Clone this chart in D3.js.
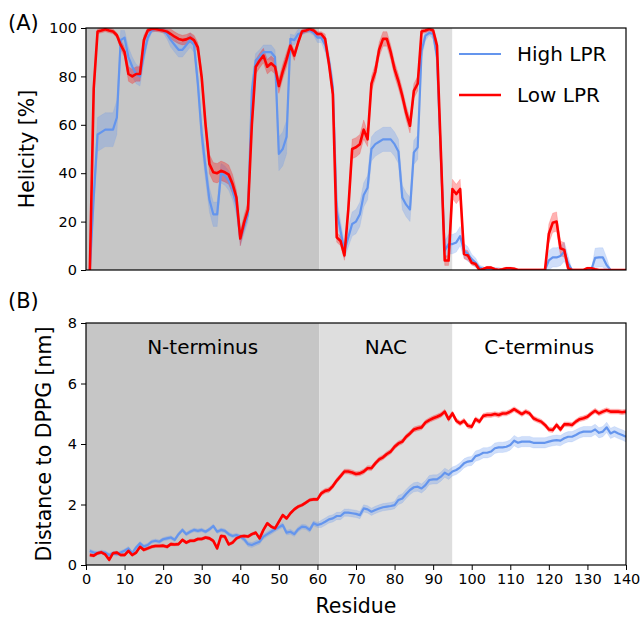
<!DOCTYPE html>
<html>
<head>
<meta charset="utf-8">
<script src="https://cdn.jsdelivr.net/npm/d3@7"></script>
<style>
  body { margin: 0; background: #fff; }
  text { font-family: "DejaVu Sans", sans-serif; fill: #000; }
</style>
</head>
<body>
<div id="chart"></div>
<script>
// residue numbers 1..140
const residues = d3.range(1, 141);

// helicity [%] per residue
const helixHigh = [
  0, 30, 56, 57, 58, 58, 58, 63, 95, 96,
  88, 84, 81, 80, 89, 96, 99, 99.6, 99.6, 99,
  97.5, 95, 93, 91, 91, 93, 95, 93, 77, 56,
  42, 29, 23, 23, 40, 39, 37, 33, 27, 13,
  18, 23, 74, 86.5, 88, 90, 90, 90, 88, 48,
  50, 55, 95.5, 95, 97.5, 98, 99, 99, 98, 96,
  96, 93, 86.5, 75.5, 24.5, 16, 8, 13.5, 19, 20,
  23, 31, 34, 50, 52, 53, 54, 54, 54, 52,
  49, 30, 27, 25, 48.6, 50.7, 90.6, 96.8, 98, 97.5,
  88, 46.6, 8, 10.7, 10.7, 11.4, 14, 8, 6.6, 4.5,
  3, 1, 0.4, 0, 0, 0, 0, 0, 0, 0,
  0, 0, 0, 0, 0, 0, 0, 0, 0, 4,
  5.2, 5.2, 5.8, 7.6, 2.8, 0, 0, 0, 0, 0,
  0, 5, 5.2, 5.2, 2, 0, 0, 0, 0, 0
];
const helixLow = [
  0, 75, 98.6, 99, 99.5, 99, 98.6, 97, 93, 90,
  81, 80, 81, 81, 95, 99, 99.6, 99.6, 99.3, 99,
  98.5, 97.5, 96.4, 95.5, 95, 95.3, 96, 95, 92, 79.6,
  60, 43.8, 40.4, 40, 41, 40.4, 39.4, 35.5, 30, 13,
  19.7, 25, 60, 84, 86.5, 88.6, 84, 85.4, 84, 76,
  82, 87, 92.7, 88.6, 94, 98.6, 99, 99.6, 99, 97.5,
  97.5, 95.5, 85, 72.7, 13.5, 12, 6, 25, 50, 50.7,
  52, 58, 54, 77, 82, 91, 95.5, 95.5, 90, 83,
  78, 72, 65, 59.6, 74, 77, 98.6, 99, 99.6, 99,
  92.7, 49, 3.9, 3.9, 33.5, 31.4, 33.5, 6.6, 6, 3,
  2.5, 0, 0.4, 1, 1, 0.3, 0, 0.3, 0.7, 0.7,
  0.5, 0, 0, 0, 0, 0, 0, 0, 0, 15,
  19.5, 20, 9, 8.3, 0.7, 0, 0, 0, 0, 0.7,
  0.7, 0.3, 0, 0, 0, 0, 0, 0, 0, 0
];
const helixHighErr = [
  0, 4, 7, 7, 7, 7, 7, 7, 4, 3,
  4, 4, 4, 4, 3, 2, 1, 1, 1, 1,
  2, 3, 3, 3, 3, 3, 3, 3, 4, 5,
  5, 5, 5, 5, 4, 4, 4, 4, 4, 3,
  3, 3, 4, 3, 3, 3, 3, 3, 3, 7,
  7, 7, 2, 2, 2, 1, 1, 1, 1, 2,
  2, 3, 3, 4, 5, 4, 3, 4, 5, 5,
  5, 5, 5, 5, 5, 5, 5, 5, 5, 5,
  5, 5, 5, 5, 5, 5, 3, 2, 1, 2,
  3, 6, 4, 4, 4, 4, 4, 3, 3, 2,
  2, 1, 1, 0, 1, 1, 1, 0.5, 0.5, 0.5,
  0.5, 0, 0, 0, 0, 0, 0, 0, 0, 4,
  4, 4, 4, 4, 3, 0, 0, 0, 0, 0,
  0, 4, 4, 4, 3, 0, 0, 0, 0, 0
];
const helixLowErr = [
  0, 4, 1, 1, 1, 1, 1, 1, 2, 2,
  3, 3, 3, 3, 2, 1, 1, 1, 1, 1,
  1, 2, 2, 2, 2, 2, 2, 2, 2, 3,
  3, 4, 4, 4, 4, 4, 4, 4, 3, 3,
  3, 3, 3, 3, 3, 3, 3, 3, 3, 3,
  3, 3, 2, 2, 1, 1, 1, 1, 1, 1,
  1, 2, 2, 3, 2, 2, 2, 3, 4, 4,
  4, 4, 3, 3, 3, 3, 3, 3, 3, 3,
  3, 3, 3, 3, 3, 3, 1, 1, 1, 1,
  2, 4, 2, 2, 4, 4, 4, 2, 2, 1,
  1, 0.5, 0.5, 0.5, 0.5, 0.5, 0.5, 0.5, 0.5, 0.5,
  0.5, 0.5, 0.5, 0.5, 0.5, 0.5, 0.5, 0.5, 0.5, 4,
  4, 4, 3, 3, 1, 0.5, 0.5, 0.5, 0.5, 0.5,
  0.5, 0.3, 0.3, 0.3, 0.3, 0, 0, 0, 0, 0
];

// distance to DPPG [nm] per residue
const distHigh = [
  0.46, 0.41, 0.39, 0.43, 0.41, 0.33, 0.39, 0.36, 0.41, 0.47,
  0.55, 0.39, 0.58, 0.72, 0.61, 0.66, 0.77, 0.80, 0.77, 0.85,
  0.88, 0.91, 0.83, 1.02, 1.16, 1.02, 1.10, 1.16, 1.13, 1.16,
  1.10, 1.18, 1.29, 1.10, 1.16, 1.13, 1.02, 0.96, 0.99, 0.94,
  0.85, 0.69, 0.66, 0.72, 0.77, 0.94, 1.02, 1.10, 1.18, 1.25,
  1.32, 1.07, 1.10, 1.02, 1.18, 1.27, 1.25, 1.16, 1.38, 1.32,
  1.36, 1.43, 1.51, 1.54, 1.62, 1.62, 1.73, 1.73, 1.71, 1.69,
  1.65, 1.87, 1.84, 1.76, 1.82, 1.87, 1.91, 1.93, 1.95, 1.98,
  2.15, 2.20, 2.35, 2.48, 2.57, 2.59, 2.53, 2.64, 2.81, 2.83,
  2.83, 2.92, 3.05, 2.98, 3.09, 3.14, 3.23, 3.36, 3.42, 3.44,
  3.60, 3.64, 3.71, 3.71, 3.75, 3.86, 3.89, 3.89, 3.91, 3.97,
  4.11, 4.04, 4.08, 4.08, 4.08, 4.04, 4.04, 4.04, 4.04, 4.08,
  4.11, 4.13, 4.11, 4.19, 4.24, 4.24, 4.30, 4.37, 4.41, 4.41,
  4.41, 4.48, 4.37, 4.41, 4.55, 4.35, 4.41, 4.35, 4.30, 4.24
];
const distLow = [
  0.33, 0.31, 0.39, 0.42, 0.35, 0.17, 0.39, 0.41, 0.33, 0.33,
  0.47, 0.33, 0.41, 0.60, 0.50, 0.55, 0.60, 0.63, 0.63, 0.64,
  0.60, 0.69, 0.68, 0.69, 0.83, 0.74, 0.80, 0.80, 0.86, 0.86,
  0.91, 0.88, 0.80, 0.55, 0.96, 0.94, 0.68, 0.74, 0.88, 0.94,
  0.96, 0.94, 1.02, 1.07, 0.88, 1.16, 1.38, 1.27, 1.21, 1.43,
  1.65, 1.54, 1.71, 1.84, 1.93, 1.98, 2.06, 2.15, 2.17, 2.17,
  2.37, 2.45, 2.48, 2.61, 2.79, 2.94, 3.09, 3.09, 3.06, 3.01,
  3.03, 3.09, 3.20, 3.20, 3.36, 3.49, 3.56, 3.67, 3.75, 3.91,
  4.02, 4.08, 4.24, 4.35, 4.48, 4.52, 4.55, 4.71, 4.79, 4.85,
  4.90, 4.96, 5.07, 4.82, 5.01, 4.77, 4.68, 4.77, 4.60, 4.57,
  4.82, 4.74, 4.93, 4.96, 4.96, 4.99, 4.96, 5.01, 5.01, 5.07,
  5.15, 5.07, 4.99, 5.07, 5.01, 4.85, 4.79, 4.74, 4.63, 4.48,
  4.46, 4.63, 4.48, 4.65, 4.65, 4.63, 4.74, 4.82, 4.85, 4.90,
  5.01, 5.10, 5.01, 5.07, 5.12, 5.07, 5.07, 5.07, 5.05, 5.07
];
const distHighErr = [
  0.06, 0.06, 0.06, 0.06, 0.06, 0.06, 0.06, 0.06, 0.06, 0.06,
  0.06, 0.06, 0.06, 0.06, 0.06, 0.06, 0.06, 0.06, 0.06, 0.06,
  0.06, 0.06, 0.06, 0.06, 0.06, 0.06, 0.06, 0.06, 0.06, 0.06,
  0.06, 0.06, 0.06, 0.06, 0.06, 0.06, 0.06, 0.06, 0.06, 0.06,
  0.08, 0.08, 0.08, 0.08, 0.08, 0.08, 0.08, 0.08, 0.08, 0.08,
  0.08, 0.08, 0.08, 0.08, 0.08, 0.08, 0.08, 0.08, 0.08, 0.08,
  0.12, 0.12, 0.12, 0.12, 0.12, 0.12, 0.12, 0.12, 0.12, 0.12,
  0.12, 0.12, 0.12, 0.12, 0.12, 0.12, 0.12, 0.12, 0.12, 0.12,
  0.15, 0.15, 0.15, 0.15, 0.15, 0.15, 0.15, 0.15, 0.15, 0.15,
  0.15, 0.15, 0.15, 0.15, 0.15, 0.15, 0.15, 0.15, 0.15, 0.15,
  0.17, 0.17, 0.17, 0.17, 0.17, 0.17, 0.17, 0.17, 0.17, 0.17,
  0.17, 0.17, 0.17, 0.17, 0.17, 0.17, 0.17, 0.17, 0.17, 0.17,
  0.17, 0.17, 0.17, 0.17, 0.17, 0.17, 0.17, 0.17, 0.17, 0.17,
  0.17, 0.17, 0.17, 0.17, 0.17, 0.17, 0.17, 0.17, 0.17, 0.17
];
const distLowErr = [
  0.05, 0.05, 0.05, 0.05, 0.05, 0.05, 0.05, 0.05, 0.05, 0.05,
  0.05, 0.05, 0.05, 0.05, 0.05, 0.05, 0.05, 0.05, 0.05, 0.05,
  0.05, 0.05, 0.05, 0.05, 0.05, 0.05, 0.05, 0.05, 0.05, 0.05,
  0.05, 0.05, 0.05, 0.05, 0.05, 0.05, 0.05, 0.05, 0.05, 0.05,
  0.05, 0.05, 0.05, 0.05, 0.05, 0.05, 0.05, 0.05, 0.05, 0.05,
  0.05, 0.05, 0.05, 0.05, 0.05, 0.05, 0.05, 0.05, 0.05, 0.05,
  0.08, 0.08, 0.08, 0.08, 0.08, 0.08, 0.08, 0.08, 0.08, 0.08,
  0.08, 0.08, 0.08, 0.08, 0.08, 0.08, 0.08, 0.08, 0.08, 0.08,
  0.08, 0.08, 0.08, 0.08, 0.08, 0.08, 0.08, 0.08, 0.08, 0.08,
  0.08, 0.08, 0.08, 0.08, 0.08, 0.08, 0.08, 0.08, 0.08, 0.08,
  0.08, 0.08, 0.08, 0.08, 0.08, 0.08, 0.08, 0.08, 0.08, 0.08,
  0.08, 0.08, 0.08, 0.08, 0.08, 0.08, 0.08, 0.08, 0.08, 0.08,
  0.08, 0.08, 0.08, 0.08, 0.08, 0.08, 0.08, 0.08, 0.08, 0.08,
  0.08, 0.08, 0.08, 0.08, 0.08, 0.08, 0.08, 0.08, 0.08, 0.08
];

// protein regions (shaded backgrounds)
const regionNames = ["N-terminus", "NAC", "C-terminus"];
const regionBounds = [[0, 60.5], [60.5, 95], [95, 140]];
const regionColors = ["#c6c6c6", "#dedede", "#ffffff"];

const seriesNames = ["High LPR", "Low LPR"];
const seriesColors = ["#6495ed", "#ff0000"];

const helixTicks = [0, 20, 40, 60, 80, 100];
const distTicks = [0, 2, 4, 6, 8];
const residueTicks = d3.range(0, 141, 10);

// layout
const width = 642, height = 617;
const plotLeft = 86, plotRight = 626;

const svg = d3.select("#chart").append("svg")
  .attr("width", width)
  .attr("height", height);

const x = d3.scaleLinear().domain([0, 140]).range([plotLeft, plotRight]);
const yA = d3.scaleLinear().domain([0, 100]).range([270, 28]);
const yB = d3.scaleLinear().domain([0, 8]).range([565, 323]);

function drawPanel(y, id, high, highErr, low, lowErr, ticks, showX) {
  const top = y.range()[1], bottom = y.range()[0];
  const g = svg.append("g");

  svg.append("clipPath").attr("id", id)
    .append("rect")
    .attr("x", plotLeft).attr("y", top)
    .attr("width", plotRight - plotLeft).attr("height", bottom - top);

  // shaded regions
  g.selectAll(".region")
    .data(regionBounds)
    .enter().append("rect")
    .attr("x", d => x(d[0]))
    .attr("y", top)
    .attr("width", d => x(d[1]) - x(d[0]))
    .attr("height", bottom - top)
    .attr("fill", (d, i) => regionColors[i]);

  const plot = g.append("g").attr("clip-path", `url(#${id})`);

  const series = [[high, highErr], [low, lowErr]];
  series.forEach((s, k) => {
    const vals = s[0], err = s[1];
    const area = d3.area()
      .x((d, i) => x(residues[i]))
      .y0((d, i) => y(vals[i] - err[i]))
      .y1((d, i) => y(vals[i] + err[i]));
    plot.append("path")
      .attr("d", area(vals))
      .attr("fill", seriesColors[k])
      .attr("fill-opacity", 0.3)
      .attr("stroke", seriesColors[k])
      .attr("stroke-opacity", 0.15)
      .attr("stroke-width", 1);
  });
  series.forEach((s, k) => {
    const vals = s[0];
    const line = d3.line()
      .x((d, i) => x(residues[i]))
      .y(d => y(d));
    plot.append("path")
      .attr("d", line(vals))
      .attr("fill", "none")
      .attr("stroke", seriesColors[k])
      .attr("stroke-width", k === 1 ? 2.6 : 2.2)
      .attr("stroke-linejoin", "round");
  });

  // y axis
  const yAxis = g.append("g")
    .attr("transform", `translate(${plotLeft},0)`)
    .call(d3.axisLeft(y).tickValues(ticks).tickSize(5).tickPadding(4).tickFormat(d3.format("d")));
  yAxis.select(".domain").remove();
  yAxis.selectAll("line").attr("stroke", "#000").attr("stroke-width", 1);
  yAxis.selectAll("text")
    .style("font-size", "14.5px")
    .style("font-family", "DejaVu Sans, sans-serif");

  if (showX) {
    const xAxis = g.append("g")
      .attr("transform", `translate(0,${bottom})`)
      .call(d3.axisBottom(x).tickValues(residueTicks).tickSize(5).tickPadding(4));
    xAxis.select(".domain").remove();
    xAxis.selectAll("line").attr("stroke", "#000").attr("stroke-width", 1);
    xAxis.selectAll("text")
      .style("font-size", "14.5px")
      .style("font-family", "DejaVu Sans, sans-serif");
  }

  // frame
  g.append("rect")
    .attr("x", plotLeft).attr("y", top)
    .attr("width", plotRight - plotLeft).attr("height", bottom - top)
    .attr("fill", "none")
    .attr("stroke", "#000")
    .attr("stroke-width", 1.2);
}

drawPanel(yA, "clipA", helixHigh, helixHighErr, helixLow, helixLowErr, helixTicks, false);
drawPanel(yB, "clipB", distHigh, distHighErr, distLow, distLowErr, distTicks, true);

// region labels in panel B
svg.selectAll(".region-label")
  .data(regionNames)
  .enter().append("text")
  .attr("x", (d, i) => x((regionBounds[i][0] + regionBounds[i][1]) / 2))
  .attr("y", 354)
  .attr("text-anchor", "middle")
  .style("font-size", "20px")
  .text(d => d);

// legend in panel A
const legend = svg.append("g");
seriesNames.forEach((name, i) => {
  const ly = 54 + i * 41;
  legend.append("line")
    .attr("x1", 459).attr("x2", 501)
    .attr("y1", ly).attr("y2", ly)
    .attr("stroke", seriesColors[i])
    .attr("stroke-width", i === 1 ? 2.6 : 2.2);
  legend.append("text")
    .attr("x", 517).attr("y", ly + 7)
    .style("font-size", "20px")
    .text(name);
});

// axis labels
svg.append("text")
  .attr("transform", `translate(34,${(yA(0) + yA(100)) / 2}) rotate(-90)`)
  .attr("text-anchor", "middle")
  .style("font-size", "20.5px")
  .text("Helicity [%]");

svg.append("text")
  .attr("transform", `translate(51,${(yB(0) + yB(8)) / 2}) rotate(-90)`)
  .attr("text-anchor", "middle")
  .style("font-size", "20.5px")
  .text("Distance to DPPG [nm]");

svg.append("text")
  .attr("x", (plotLeft + plotRight) / 2)
  .attr("y", 613)
  .attr("text-anchor", "middle")
  .style("font-size", "20.5px")
  .text("Residue");

// panel tags
svg.append("text").attr("x", 8).attr("y", 30).style("font-size", "21px").text("(A)");
svg.append("text").attr("x", 8).attr("y", 308).style("font-size", "21px").text("(B)");
</script>
</body>
</html>
